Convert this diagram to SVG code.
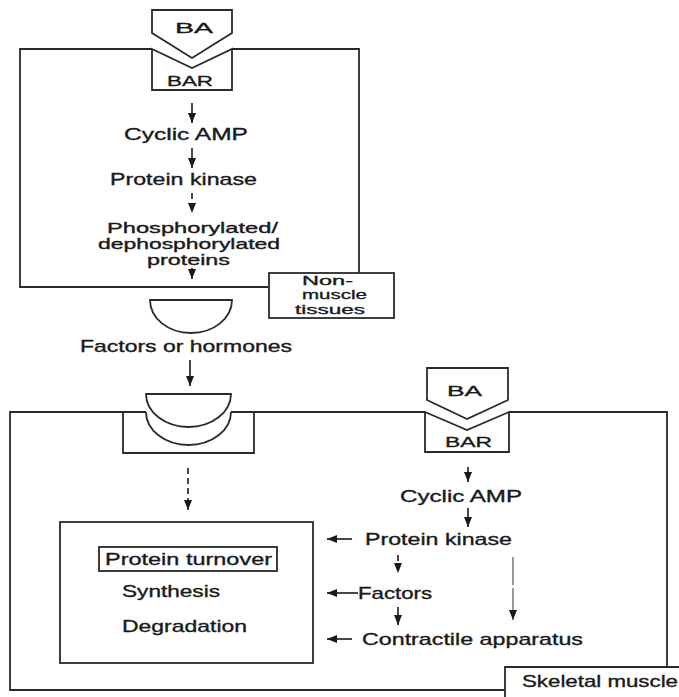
<svg xmlns="http://www.w3.org/2000/svg" width="679" height="697" viewBox="0 0 679 697">
<defs>
<marker id="ah" markerUnits="userSpaceOnUse" markerWidth="10" markerHeight="10" viewBox="0 0 10 10" refX="10" refY="5" orient="auto">
<path d="M0,1 L10,5 L0,9 Z" fill="#1a1a1a"/>
</marker>
<style>
.ln{fill:none;stroke:#2a2a2a;stroke-width:1.8;stroke-linejoin:miter}
.sh{fill:#fff;stroke:#2a2a2a;stroke-width:1.8}
.ar{fill:none;stroke:#1a1a1a;stroke-width:1.6;marker-end:url(#ah)}
.da{stroke-dasharray:6,4}
.gr{fill:none;stroke:#9a9a9a;stroke-width:2;marker-end:url(#ah)}
text{font-family:"Liberation Sans",Arial,sans-serif;font-size:17px;fill:#1a1a1a;stroke:#1a1a1a;stroke-width:0.35}
.sm{font-size:15px}
.ph{font-size:14.5px}
.xs{font-size:13.5px}
</style>
</defs>
<rect width="679" height="697" fill="#fff"/>

<g id="nonmuscle-cell">
<path class="ln" d="M152,49 H20 V287 H269 M232,49 H359 V273"/>
</g>
<g id="top-BA">
<path class="sh" d="M152,10 H232 V33 L192,58 L152,33 Z"/>
<text class="sm" x="175" y="33" textLength="38" lengthAdjust="spacingAndGlyphs">BA</text>
</g>
<g id="top-BAR">
<path class="sh" d="M152,49 L192,68 L232,49 V90 H152 Z"/>
<text class="sm" x="167" y="86" textLength="46" lengthAdjust="spacingAndGlyphs">BAR</text>
</g>
<g id="top-cAMP"><text x="124" y="140" textLength="124" lengthAdjust="spacingAndGlyphs">Cyclic AMP</text></g>
<g id="top-pk"><text x="110" y="185" textLength="147" lengthAdjust="spacingAndGlyphs">Protein kinase</text></g>
<g id="top-phospho">
<text class="ph" x="107" y="233" textLength="171" lengthAdjust="spacingAndGlyphs">Phosphorylated/</text>
<text class="ph" x="98" y="249" textLength="182" lengthAdjust="spacingAndGlyphs">dephosphorylated</text>
<text class="ph" x="147" y="265" textLength="83" lengthAdjust="spacingAndGlyphs">proteins</text>
</g>
<g id="nonmuscle-label">
<rect class="sh" x="269" y="273" width="125" height="45"/>
<text class="xs" x="302" y="285" textLength="51" lengthAdjust="spacingAndGlyphs">Non-</text>
<text class="xs" x="302" y="299" textLength="65" lengthAdjust="spacingAndGlyphs">muscle</text>
<text class="xs" x="295" y="314" textLength="70" lengthAdjust="spacingAndGlyphs">tissues</text>
</g>
<g id="factor-disc">
<path class="sh" d="M150,300 H232 A41,33 0 0 1 150,300 Z"/>
</g>
<g id="factors-label"><text x="80" y="352" textLength="212" lengthAdjust="spacingAndGlyphs">Factors or hormones</text></g>

<g id="skeletal-cell">
<path class="ln" d="M146,412 H10 V690 H505 M231,412 H425 M509,412 H667 V667"/>
</g>
<g id="receptor">
<path class="ln" d="M123,412 H146 M231,412 H254 M123,412 V453 H254 V412"/>
<path class="ln" d="M146,412 A42.5,33 0 0 0 231,412"/>
<path class="sh" d="M146,394 H231 A42.5,33 0 0 1 146,394 Z"/>
</g>
<g id="bottom-BA">
<path class="sh" d="M427,368 H508 V400 L467,419 L427,400 Z"/>
<text class="sm" x="447" y="396" textLength="35" lengthAdjust="spacingAndGlyphs">BA</text>
</g>
<g id="bottom-BAR">
<path class="sh" d="M425,412 L467,430 L509,412 V452 H425 Z"/>
<text class="sm" x="445" y="447" textLength="47" lengthAdjust="spacingAndGlyphs">BAR</text>
</g>
<g id="turnover">
<rect class="sh" x="60" y="522" width="253" height="141"/>
<rect class="sh" x="99" y="547" width="178" height="24"/>
<text x="105" y="565" textLength="167" lengthAdjust="spacingAndGlyphs">Protein turnover</text>
<text x="122" y="597" textLength="98" lengthAdjust="spacingAndGlyphs">Synthesis</text>
<text x="122" y="632" textLength="125" lengthAdjust="spacingAndGlyphs">Degradation</text>
</g>
<g id="bot-cAMP"><text x="400" y="502" textLength="122" lengthAdjust="spacingAndGlyphs">Cyclic AMP</text></g>
<g id="bot-pk"><text x="365" y="545" textLength="147" lengthAdjust="spacingAndGlyphs">Protein kinase</text></g>
<g id="bot-factors"><text x="358" y="599" textLength="74" lengthAdjust="spacingAndGlyphs">Factors</text></g>
<g id="bot-contractile"><text x="362" y="645" textLength="221" lengthAdjust="spacingAndGlyphs">Contractile apparatus</text></g>
<g id="skeletal-label">
<path class="ln" d="M505,697 V667 H679"/>
<text x="522" y="687" textLength="156" lengthAdjust="spacingAndGlyphs">Skeletal muscle</text>
</g>

<g id="connectors">
<line class="ar" x1="192" y1="103" x2="192" y2="123"/>
<line class="ar" x1="192" y1="148" x2="192" y2="168"/>
<line class="ar da" x1="192" y1="193" x2="192" y2="213"/>
<line class="ar" x1="192" y1="268" x2="192" y2="279"/>
<line class="ar" x1="190" y1="360" x2="190" y2="386"/>
<line class="ar da" x1="188" y1="468" x2="188" y2="510"/>
<line class="ar" x1="468" y1="467" x2="468" y2="482"/>
<line class="ar" x1="468" y1="508" x2="468" y2="527"/>
<line class="ar" x1="352" y1="539" x2="327" y2="539"/>
<line class="ar da" x1="398" y1="555" x2="398" y2="573"/>
<line class="ar" x1="358" y1="593" x2="327" y2="593"/>
<line class="ar" x1="398" y1="607" x2="398" y2="625"/>
<line class="ar" x1="352" y1="639" x2="327" y2="639"/>
<line class="gr" x1="513" y1="557" x2="513" y2="620" stroke-dasharray="28,3,60"/>
</g>
</svg>
